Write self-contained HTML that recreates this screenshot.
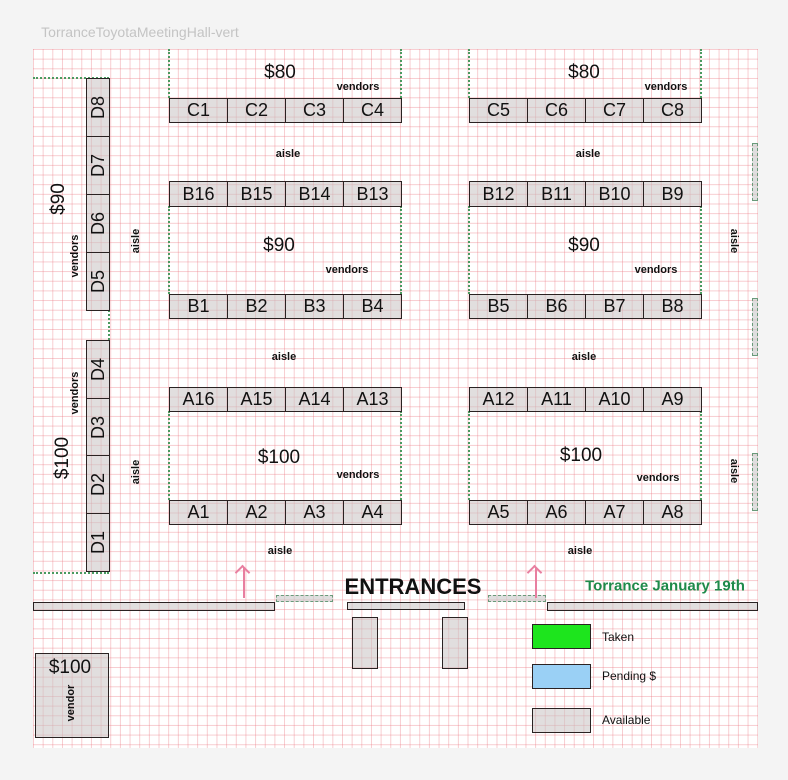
<!DOCTYPE html>
<html><head><meta charset="utf-8">
<style>
*{margin:0;padding:0;box-sizing:border-box}
body{width:788px;height:780px;background:#f4f4f4;position:relative;overflow:hidden;font-family:"Liberation Sans",sans-serif;color:#111}
#grid{position:absolute;left:33px;top:49px;width:725px;height:699px;background-color:#fff;
background-image:linear-gradient(to right,rgba(235,120,130,.38) 1px,transparent 1px),linear-gradient(to bottom,rgba(235,120,130,.38) 1px,transparent 1px);
background-size:9.67px 9.67px}
.b{position:absolute;background:rgba(200,195,195,.55);border:1.5px solid #2a2222;display:flex;align-items:center;justify-content:center;font-size:18px}
.t{position:absolute;white-space:nowrap;transform:translate(-50%,-50%)}
.v{font-size:11px;font-weight:bold}
.p{font-size:19px}
.r{transform:translate(-50%,-50%) rotate(-90deg)}
.gv{position:absolute;border-left:2px dotted #4a9a60;width:0}
.gh{position:absolute;border-top:2px dotted #4a9a60;height:0}
.dz{position:absolute;background:rgba(200,200,200,.6);border:1px dashed #6a9a7a}
.arr{position:absolute;width:2px;background:#e87fa0}
.arr:before{content:"";position:absolute;left:-6px;top:-1px;width:9px;height:9px;border-left:2px solid #e87fa0;border-top:2px solid #e87fa0;transform:rotate(45deg);transform-origin:center}
</style></head><body>
<div class="t" style="left:140px;top:32px;color:#c4c4c4;font-size:14px">TorranceToyotaMeetingHall-vert</div>
<div id="grid"></div>

<div class="gv" style="left:168px;top:49px;height:49px"></div>
<div class="gv" style="left:400px;top:49px;height:49px"></div>
<div class="gv" style="left:468px;top:49px;height:49px"></div>
<div class="gv" style="left:700px;top:49px;height:49px"></div>
<div class="gv" style="left:168px;top:206px;height:88px"></div>
<div class="gv" style="left:400px;top:206px;height:88px"></div>
<div class="gv" style="left:468px;top:206px;height:88px"></div>
<div class="gv" style="left:700px;top:206px;height:88px"></div>
<div class="gv" style="left:168px;top:411px;height:89px"></div>
<div class="gv" style="left:400px;top:411px;height:89px"></div>
<div class="gv" style="left:468px;top:411px;height:89px"></div>
<div class="gv" style="left:700px;top:411px;height:89px"></div>
<div class="gh" style="left:33px;top:77px;width:76px"></div>
<div class="gh" style="left:33px;top:572px;width:76px"></div>
<div class="gv" style="left:108px;top:310px;height:30px"></div>

<div class="b" style="left:169px;top:98px;width:59px;height:25px">C1</div>
<div class="b" style="left:227px;top:98px;width:59px;height:25px">C2</div>
<div class="b" style="left:285px;top:98px;width:59px;height:25px">C3</div>
<div class="b" style="left:343px;top:98px;width:59px;height:25px">C4</div>
<div class="b" style="left:469px;top:98px;width:59px;height:25px">C5</div>
<div class="b" style="left:527px;top:98px;width:59px;height:25px">C6</div>
<div class="b" style="left:585px;top:98px;width:59px;height:25px">C7</div>
<div class="b" style="left:643px;top:98px;width:59px;height:25px">C8</div>
<div class="b" style="left:169px;top:181px;width:59px;height:26px">B16</div>
<div class="b" style="left:227px;top:181px;width:59px;height:26px">B15</div>
<div class="b" style="left:285px;top:181px;width:59px;height:26px">B14</div>
<div class="b" style="left:343px;top:181px;width:59px;height:26px">B13</div>
<div class="b" style="left:469px;top:181px;width:59px;height:26px">B12</div>
<div class="b" style="left:527px;top:181px;width:59px;height:26px">B11</div>
<div class="b" style="left:585px;top:181px;width:59px;height:26px">B10</div>
<div class="b" style="left:643px;top:181px;width:59px;height:26px">B9</div>
<div class="b" style="left:169px;top:294px;width:59px;height:25px">B1</div>
<div class="b" style="left:227px;top:294px;width:59px;height:25px">B2</div>
<div class="b" style="left:285px;top:294px;width:59px;height:25px">B3</div>
<div class="b" style="left:343px;top:294px;width:59px;height:25px">B4</div>
<div class="b" style="left:469px;top:294px;width:59px;height:25px">B5</div>
<div class="b" style="left:527px;top:294px;width:59px;height:25px">B6</div>
<div class="b" style="left:585px;top:294px;width:59px;height:25px">B7</div>
<div class="b" style="left:643px;top:294px;width:59px;height:25px">B8</div>
<div class="b" style="left:169px;top:387px;width:59px;height:25px">A16</div>
<div class="b" style="left:227px;top:387px;width:59px;height:25px">A15</div>
<div class="b" style="left:285px;top:387px;width:59px;height:25px">A14</div>
<div class="b" style="left:343px;top:387px;width:59px;height:25px">A13</div>
<div class="b" style="left:469px;top:387px;width:59px;height:25px">A12</div>
<div class="b" style="left:527px;top:387px;width:59px;height:25px">A11</div>
<div class="b" style="left:585px;top:387px;width:59px;height:25px">A10</div>
<div class="b" style="left:643px;top:387px;width:59px;height:25px">A9</div>
<div class="b" style="left:169px;top:500px;width:59px;height:25px">A1</div>
<div class="b" style="left:227px;top:500px;width:59px;height:25px">A2</div>
<div class="b" style="left:285px;top:500px;width:59px;height:25px">A3</div>
<div class="b" style="left:343px;top:500px;width:59px;height:25px">A4</div>
<div class="b" style="left:469px;top:500px;width:59px;height:25px">A5</div>
<div class="b" style="left:527px;top:500px;width:59px;height:25px">A6</div>
<div class="b" style="left:585px;top:500px;width:59px;height:25px">A7</div>
<div class="b" style="left:643px;top:500px;width:59px;height:25px">A8</div>

<div class="b" style="left:86px;top:78px;width:24px;height:59px"><span style="transform:rotate(-90deg)">D8</span></div>
<div class="b" style="left:86px;top:136px;width:24px;height:59px"><span style="transform:rotate(-90deg)">D7</span></div>
<div class="b" style="left:86px;top:194px;width:24px;height:59px"><span style="transform:rotate(-90deg)">D6</span></div>
<div class="b" style="left:86px;top:252px;width:24px;height:59px"><span style="transform:rotate(-90deg)">D5</span></div>
<div class="b" style="left:86px;top:340px;width:24px;height:59px"><span style="transform:rotate(-90deg)">D4</span></div>
<div class="b" style="left:86px;top:398px;width:24px;height:58px"><span style="transform:rotate(-90deg)">D3</span></div>
<div class="b" style="left:86px;top:455px;width:24px;height:59px"><span style="transform:rotate(-90deg)">D2</span></div>
<div class="b" style="left:86px;top:513px;width:24px;height:59px"><span style="transform:rotate(-90deg)">D1</span></div>

<div class="dz" style="left:752px;top:143px;width:6px;height:58px"></div>
<div class="dz" style="left:752px;top:298px;width:6px;height:58px"></div>
<div class="dz" style="left:752px;top:453px;width:6px;height:58px"></div>

<div class="t p" style="left:280px;top:73px">$80</div>
<div class="t v" style="left:358px;top:87px">vendors</div>
<div class="t p" style="left:584px;top:73px">$80</div>
<div class="t v" style="left:666px;top:87px">vendors</div>
<div class="t v" style="left:288px;top:154px">aisle</div>
<div class="t v" style="left:588px;top:154px">aisle</div>
<div class="t p" style="left:279px;top:246px">$90</div>
<div class="t v" style="left:347px;top:270px">vendors</div>
<div class="t p" style="left:584px;top:246px">$90</div>
<div class="t v" style="left:656px;top:270px">vendors</div>
<div class="t v" style="left:284px;top:357px">aisle</div>
<div class="t v" style="left:584px;top:357px">aisle</div>
<div class="t p" style="left:279px;top:458px">$100</div>
<div class="t v" style="left:358px;top:475px">vendors</div>
<div class="t p" style="left:581px;top:456px">$100</div>
<div class="t v" style="left:658px;top:478px">vendors</div>
<div class="t v" style="left:280px;top:551px">aisle</div>
<div class="t v" style="left:580px;top:551px">aisle</div>
<div class="t v r" style="left:136px;top:241px">aisle</div>
<div class="t v r" style="left:136px;top:472px">aisle</div>
<div class="t v" style="left:734px;top:241px;transform:translate(-50%,-50%) rotate(90deg)">aisle</div>
<div class="t v" style="left:734px;top:471px;transform:translate(-50%,-50%) rotate(90deg)">aisle</div>
<div class="t p r" style="left:59px;top:199px">$90</div>
<div class="t v r" style="left:75px;top:256px">vendors</div>
<div class="t v r" style="left:75px;top:393px">vendors</div>
<div class="t p r" style="left:63px;top:458px">$100</div>

<div class="b" style="left:33px;top:602px;width:242px;height:9px;border-width:1.2px"></div>
<div class="dz" style="left:276px;top:595px;width:57px;height:7px"></div>
<div class="b" style="left:347px;top:602px;width:118px;height:8px;border-width:1.2px"></div>
<div class="dz" style="left:488px;top:595px;width:58px;height:7px"></div>
<div class="b" style="left:547px;top:602px;width:211px;height:9px;border-width:1.2px"></div>
<div class="b" style="left:352px;top:617px;width:26px;height:52px;border-width:1.2px"></div>
<div class="b" style="left:442px;top:617px;width:26px;height:52px;border-width:1.2px"></div>
<div class="arr" style="left:243px;top:568px;height:30px"></div>
<div class="arr" style="left:535px;top:568px;height:30px"></div>
<div class="t" style="left:413px;top:587px;font-size:22px;font-weight:bold">ENTRANCES</div>
<div class="t" style="left:665px;top:586px;font-size:15px;font-weight:bold;color:#1e8a4a">Torrance January 19th</div>

<div class="b" style="left:532px;top:624px;width:59px;height:25px;background:#1de51d;border-width:1px"></div>
<div class="b" style="left:532px;top:664px;width:59px;height:25px;background:#9ad0f5;border-width:1px"></div>
<div class="b" style="left:532px;top:708px;width:59px;height:25px;border-width:1px"></div>
<div class="t" style="left:602px;top:637px;transform:translate(0,-50%);font-size:12px">Taken</div>
<div class="t" style="left:602px;top:676px;transform:translate(0,-50%);font-size:12px">Pending $</div>
<div class="t" style="left:602px;top:720px;transform:translate(0,-50%);font-size:12px">Available</div>

<div class="b" style="left:35px;top:653px;width:74px;height:85px;border-width:1px"></div>
<div class="t p" style="left:70px;top:668px">$100</div>
<div class="t v r" style="left:71px;top:703px">vendor</div>
</body></html>
